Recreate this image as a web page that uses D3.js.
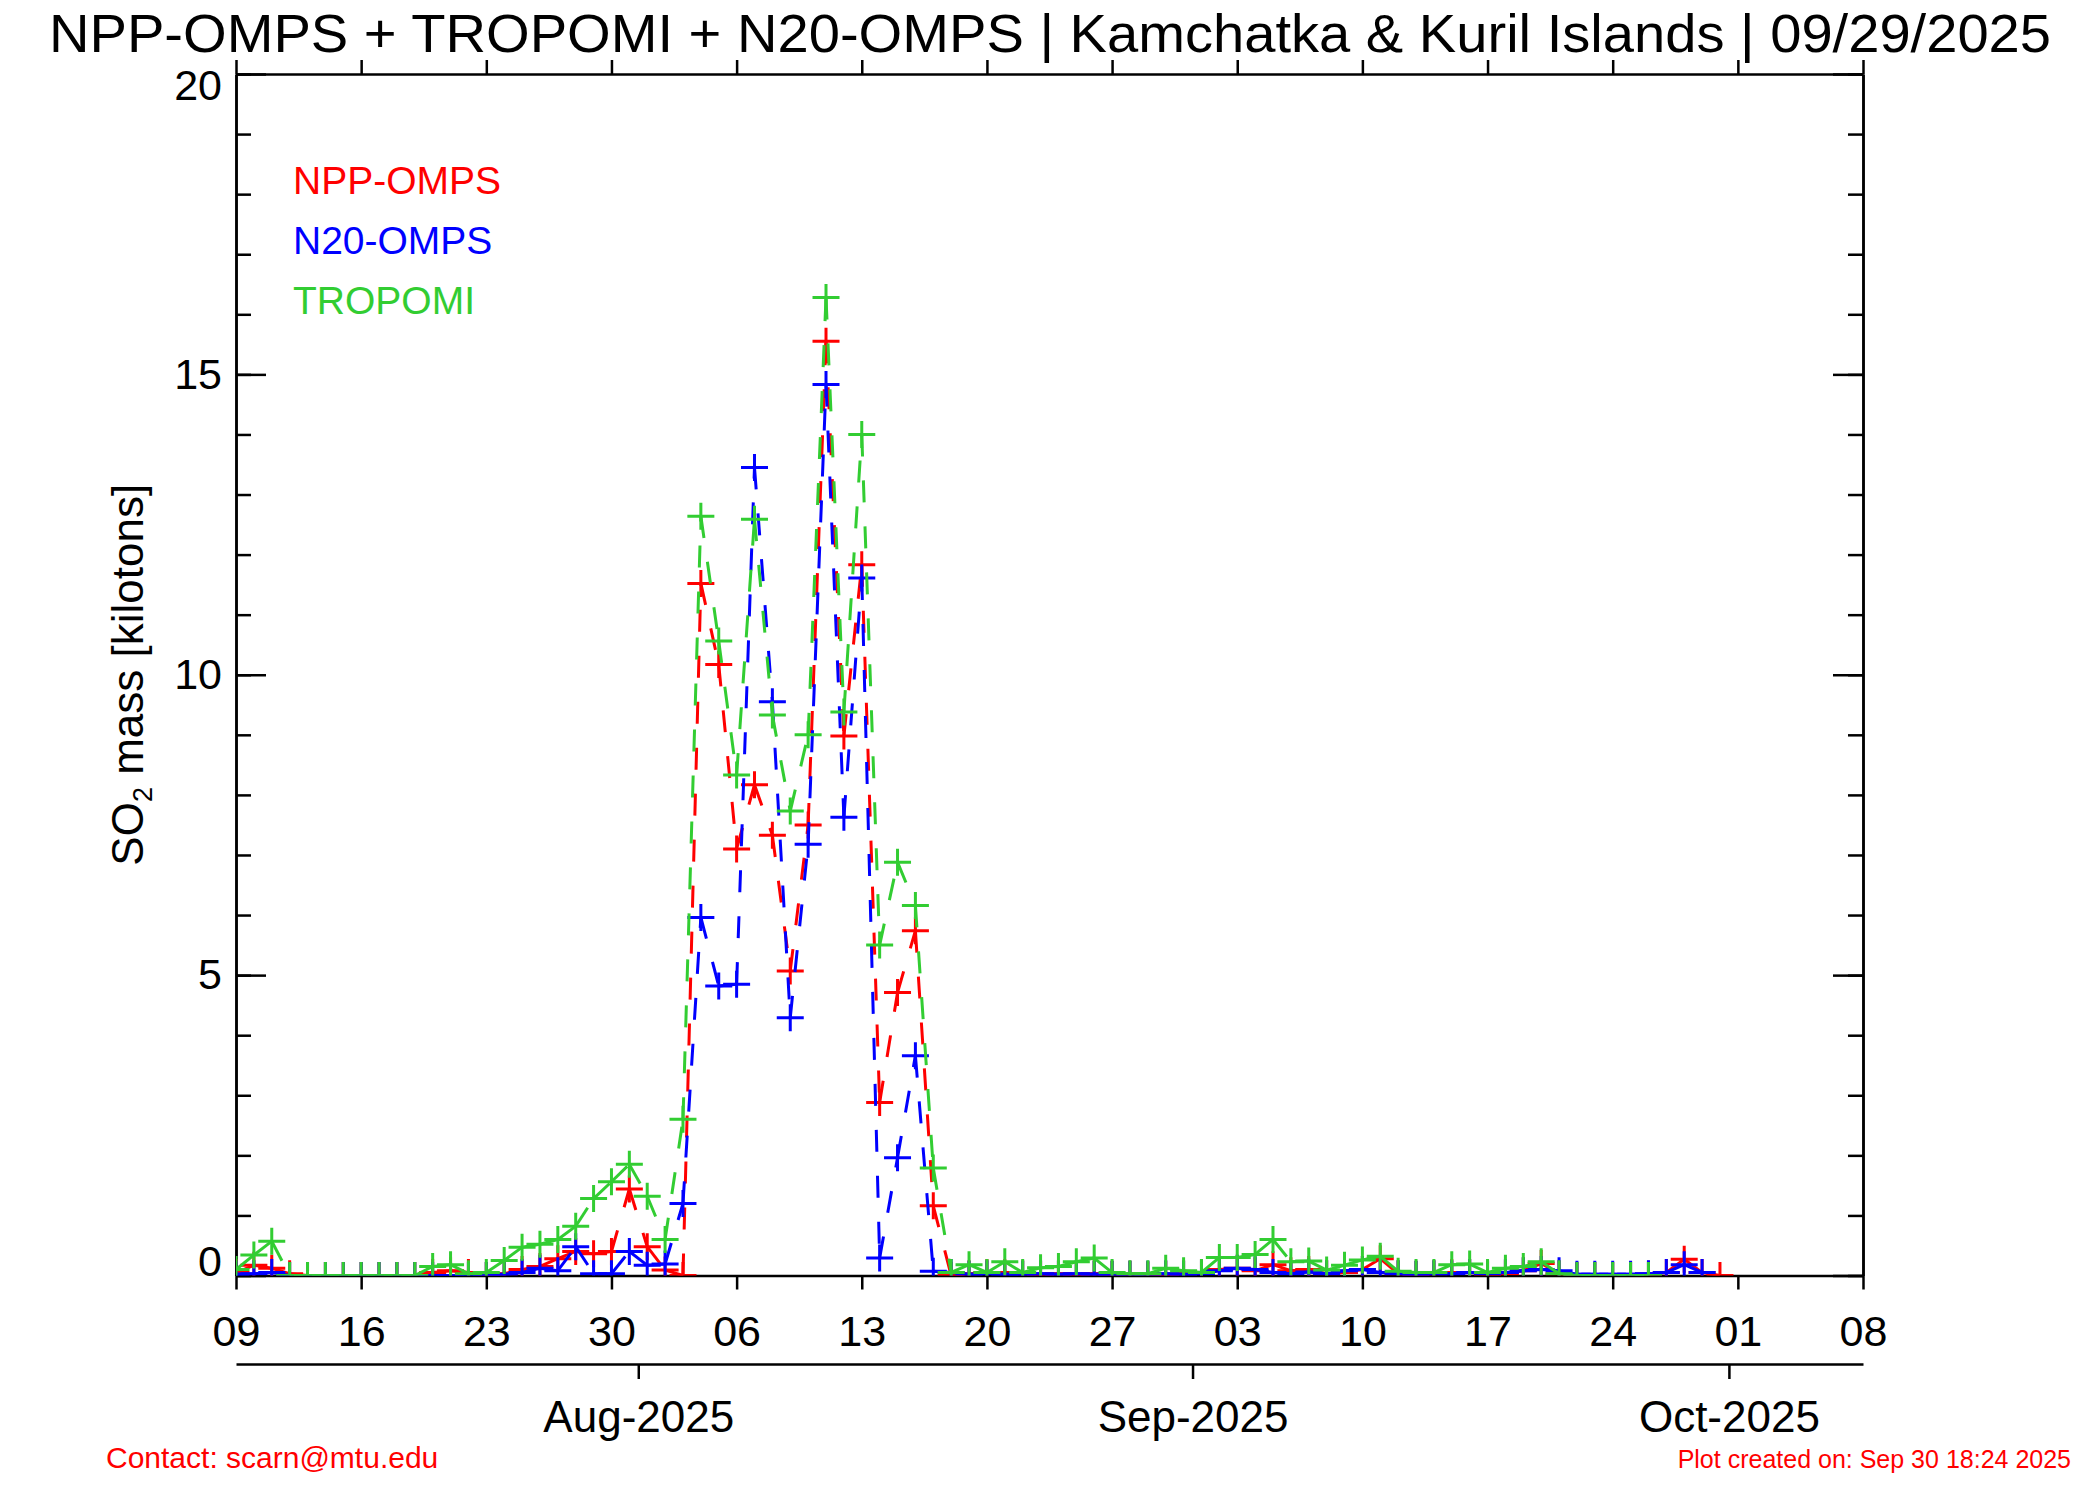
<!DOCTYPE html>
<html>
<head>
<meta charset="utf-8">
<script src="https://cdn.jsdelivr.net/npm/d3@7"></script>
<style>
  body { margin: 0; background: #fff; }
  svg { display: block; font-family: "Liberation Sans", Arial, Helvetica, sans-serif; }
</style>
</head>
<body>
<svg id="chart" width="2100" height="1500"></svg>
<script>
const firstDay = "2025-07-09";
const lastDay = "2025-10-08";
const monthStarts = ["2025-08-01", "2025-09-01", "2025-10-01"];
const yTicks = [0, 5, 10, 15, 20];

// SO2 mass in kilotons, one value per day starting at firstDay
const nppOmps = [
  0.05, 0.17, 0.12, 0.03, 0, 0, 0, 0, 0, 0,
  0, 0.05, 0.08, 0.05, 0, 0.03, 0.1, 0.15, 0.28, 0.4,
  0.36, 0.4, 1.44, 0.48, 0.09, 0, 11.52, 10.17, 7.1, 8.17,
  7.33, 5.07, 7.5, 15.55, 8.98, 11.83, 2.88, 4.71, 5.74, 1.16,
  0, 0.03, 0.05, 0.05, 0.03, 0.02, 0.03, 0.02, 0.03, 0.02,
  0.02, 0.01, 0.02, 0.03, 0.05, 0.1, 0.12, 0.08, 0.18, 0.08,
  0.1, 0.03, 0.05, 0.1, 0.28, 0.03, 0.02, 0.03, 0.05, 0.05,
  0.02, 0.03, 0.08, 0.2, 0.03, 0, 0, 0, 0.01, 0.02,
  0.05, 0.27, 0.05, 0
];
const n20Omps = [
  0.02, 0.03, 0.05, 0, 0, 0, 0, 0, 0, 0,
  0, 0, 0, 0, 0, 0.02, 0.05, 0.12, 0.08, 0.48,
  0.03, 0.03, 0.4, 0.17, 0.19, 1.2, 5.96, 4.82, 4.85, 13.45,
  9.55, 4.29, 7.18, 14.83, 7.63, 11.61, 0.29, 1.96, 3.66, 0.07,
  0.05, 0.02, 0.03, 0.02, 0.02, 0.03, 0.02, 0.03, 0.02, 0.02,
  0.02, 0.02, 0.03, 0.02, 0.03, 0.08, 0.12, 0.1, 0.05, 0.03,
  0.06, 0.03, 0.08, 0.1, 0.05, 0.03, 0.02, 0.03, 0.03, 0.05,
  0.03, 0.05, 0.08, 0.1, 0.08, 0.02, 0.02, 0.02, 0.02, 0.03,
  0.05, 0.18, 0.05
];
const tropomi = [
  0.1, 0.34, 0.57, 0, 0, 0, 0, 0, 0, 0,
  0, 0.15, 0.18, 0.03, 0.05, 0.25, 0.47, 0.52, 0.6, 0.82,
  1.28, 1.56, 1.85, 1.32, 0.6, 2.6, 12.64, 10.56, 8.33, 12.59,
  9.33, 7.73, 9.0, 16.28, 9.38, 14.0, 5.5, 6.88, 6.16, 1.79,
  0.05, 0.18, 0.05, 0.23, 0.05, 0.13, 0.15, 0.23, 0.29, 0.05,
  0.03, 0.03, 0.12, 0.08, 0.05, 0.3, 0.3, 0.35, 0.6, 0.23,
  0.24, 0.09, 0.17, 0.26, 0.32, 0.07, 0.05, 0.05, 0.18, 0.19,
  0.05, 0.12, 0.15, 0.23, 0.03, 0, 0, 0, 0, 0
];

const series = [
  { name: "NPP-OMPS", color: "#ff0000", values: nppOmps },
  { name: "N20-OMPS", color: "#0000ff", values: n20Omps },
  { name: "TROPOMI", color: "#32cd32", values: tropomi }
];

const plot = { left: 236, right: 1863, top: 74, bottom: 1275.5 };
const parse = d3.utcParse("%Y-%m-%d");
const start = parse(firstDay);
const end = parse(lastDay);

const svg = d3.select("#chart");
svg.append("rect").attr("width", 2100).attr("height", 1500).attr("fill", "#fff");

const x = d3.scaleUtc().domain([start, end]).range([plot.left, plot.right]);
const y = d3.scaleLinear().domain([0, 20]).range([plot.bottom, plot.top]);

function styleAxis(g, size) {
  g.attr("font-family", null).attr("font-size", size);
  g.selectAll("path, line").attr("stroke", "#000").attr("stroke-width", 2.5);
  g.selectAll("text").attr("fill", "#000");
}

// weekly date axis
const weekTicks = d3.utcDay.range(start, d3.utcDay.offset(end, 1), 7);
svg.append("g")
  .attr("transform", `translate(0,${plot.bottom})`)
  .call(d3.axisBottom(x).tickValues(weekTicks).tickFormat(d3.utcFormat("%d"))
    .tickSizeInner(14).tickSizeOuter(0).tickPadding(26))
  .call(g => styleAxis(g, 43));

svg.append("g")
  .attr("transform", `translate(0,${plot.top})`)
  .call(d3.axisTop(x).tickValues(weekTicks).tickFormat("")
    .tickSizeInner(14).tickSizeOuter(0))
  .call(g => styleAxis(g, 43));

// month axis underneath (ticks sit half a day before the 1st)
const monthTicks = monthStarts.map(m => d3.utcHour.offset(parse(m), -12));
svg.append("g")
  .attr("transform", "translate(0,1364)")
  .call(d3.axisBottom(x).tickValues(monthTicks)
    .tickFormat(d => d3.utcFormat("%b-%Y")(d3.utcHour.offset(d, 12)))
    .tickSizeInner(15).tickSizeOuter(0).tickPadding(22))
  .call(g => styleAxis(g, 44));

// y axes, minor ticks every 1 kt
svg.append("g")
  .attr("transform", `translate(${plot.left},0)`)
  .call(d3.axisLeft(y).ticks(20).tickFormat("").tickSizeInner(-15).tickSizeOuter(0))
  .call(g => styleAxis(g, 43));
svg.append("g")
  .attr("transform", `translate(${plot.left},0)`)
  .call(d3.axisLeft(y).tickValues(yTicks).tickSizeInner(-30).tickSizeOuter(0).tickPadding(14))
  .call(g => styleAxis(g, 43))
  .call(g => g.selectAll("text").attr("dy", d => d === 20 ? "0.6em" : d === 0 ? "0em" : "0.32em"));

svg.append("g")
  .attr("transform", `translate(${plot.right},0)`)
  .call(d3.axisRight(y).ticks(20).tickFormat("").tickSizeInner(-15).tickSizeOuter(0))
  .call(g => styleAxis(g, 43));
svg.append("g")
  .attr("transform", `translate(${plot.right},0)`)
  .call(d3.axisRight(y).tickValues(yTicks).tickFormat("").tickSizeInner(-30).tickSizeOuter(0))
  .call(g => styleAxis(g, 43));

// data
svg.append("clipPath").attr("id", "clip")
  .append("rect")
  .attr("x", plot.left).attr("y", plot.top)
  .attr("width", plot.right - plot.left).attr("height", plot.bottom - plot.top);

const dataG = svg.append("g").attr("clip-path", "url(#clip)");
const half = 13.5;

series.forEach(s => {
  const pts = s.values.map((v, i) => ({ date: d3.utcDay.offset(start, i), v: v }));
  const g = dataG.append("g");

  // each segment restarts the dash pattern
  g.selectAll("line.seg")
    .data(d3.pairs(pts))
    .join("line")
    .attr("class", "seg")
    .attr("x1", d => x(d[0].date)).attr("y1", d => y(d[0].v))
    .attr("x2", d => x(d[1].date)).attr("y2", d => y(d[1].v))
    .attr("stroke", s.color)
    .attr("stroke-width", 3)
    .attr("stroke-dasharray", "22,24");

  g.selectAll("path.mark")
    .data(pts)
    .join("path")
    .attr("class", "mark")
    .attr("d", d => {
      const px = x(d.date), py = y(d.v);
      return `M${px - half},${py}H${px + half}M${px},${py - half}V${py + half}`;
    })
    .attr("stroke", s.color)
    .attr("stroke-width", 3)
    .attr("fill", "none");
});

// legend
svg.append("g").selectAll("text")
  .data(series)
  .join("text")
  .attr("x", 293)
  .attr("y", (d, i) => 194 + i * 60)
  .attr("font-size", 39)
  .attr("fill", d => d.color)
  .text(d => d.name);

// titles
svg.append("text")
  .attr("x", 1050).attr("y", 52)
  .attr("text-anchor", "middle")
  .attr("font-size", 54)
  .attr("textLength", 2002)
  .attr("lengthAdjust", "spacingAndGlyphs")
  .text("NPP-OMPS + TROPOMI + N20-OMPS | Kamchatka & Kuril Islands | 09/29/2025");

const yLabel = svg.append("text")
  .attr("transform", `translate(143,${(plot.top + plot.bottom) / 2}) rotate(-90)`)
  .attr("text-anchor", "middle")
  .attr("font-size", 44);
yLabel.append("tspan").text("SO");
yLabel.append("tspan").attr("font-size", 27).attr("dy", 9).text("2");
yLabel.append("tspan").attr("dy", -9).text(" mass [kilotons]");

svg.append("text")
  .attr("x", 106).attr("y", 1468)
  .attr("font-size", 30)
  .attr("fill", "#ff0000")
  .text("Contact: scarn@mtu.edu");

svg.append("text")
  .attr("x", 2071).attr("y", 1468)
  .attr("text-anchor", "end")
  .attr("font-size", 25)
  .attr("fill", "#ff0000")
  .text("Plot created on: Sep 30 18:24 2025");
</script>
</body>
</html>
